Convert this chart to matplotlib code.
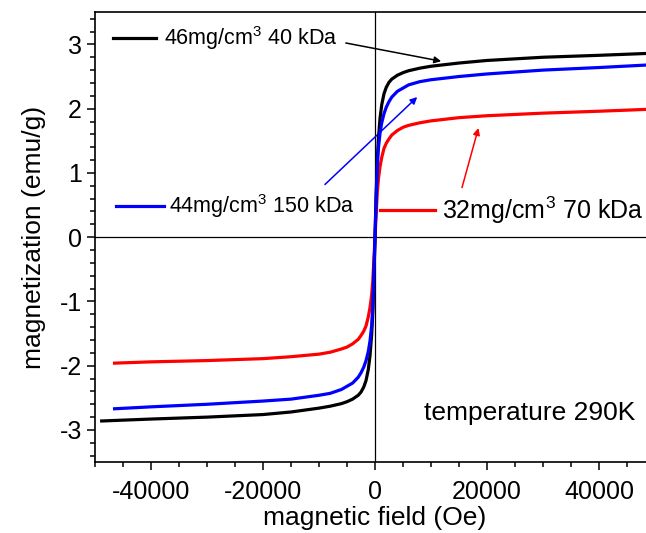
import numpy as np
import matplotlib.pyplot as plt
from matplotlib.ticker import MultipleLocator

plt.rcParams['font.family'] = ['Liberation Sans', 'DejaVu Sans']
plt.rcParams['axes.unicode_minus'] = False
plt.rcParams['mathtext.fontset'] = 'custom'
plt.rcParams['mathtext.rm'] = 'Liberation Sans'
plt.rcParams['mathtext.it'] = 'Liberation Sans'

# field values (Oe) shared by the three curves
field = [-48800, -40000, -30000, -20000, -15000, -10000, -8000, -6000, -5000, -4000,
         -3000, -2500, -2000, -1600, -1200, -900, -600, -400, -200, 0,
         200, 400, 600, 900, 1200, 1600, 2000, 2500, 3000, 4000,
         5000, 6000, 8000, 10000, 15000, 20000, 30000, 40000, 48800]

m_46 = [-2.86, -2.83, -2.80, -2.76, -2.72, -2.66, -2.63, -2.59, -2.56, -2.52,
        -2.46, -2.41, -2.33, -2.23, -2.06, -1.85, -1.52, -1.18, -0.65, 0.0,
        0.65, 1.18, 1.52, 1.85, 2.06, 2.23, 2.33, 2.41, 2.46, 2.52,
        2.56, 2.59, 2.63, 2.66, 2.71, 2.75, 2.80, 2.83, 2.86]

m_44 = [-2.67, -2.64, -2.60, -2.55, -2.52, -2.46, -2.43, -2.37, -2.32, -2.27,
        -2.18, -2.11, -2.02, -1.92, -1.78, -1.62, -1.38, -1.08, -0.58, 0.0,
        0.58, 1.08, 1.38, 1.62, 1.78, 1.92, 2.02, 2.11, 2.18, 2.27,
        2.32, 2.37, 2.42, 2.45, 2.50, 2.54, 2.60, 2.64, 2.68]

m_32 = [-1.96, -1.94, -1.92, -1.89, -1.86, -1.82, -1.79, -1.74, -1.71, -1.66,
        -1.59, -1.53, -1.46, -1.38, -1.24, -1.10, -0.90, -0.68, -0.36, 0.0,
        0.36, 0.68, 0.90, 1.10, 1.24, 1.38, 1.46, 1.53, 1.59, 1.66,
        1.71, 1.74, 1.78, 1.81, 1.86, 1.89, 1.93, 1.96, 1.99]

# the 44 and 32 mg/cm3 sweeps start a bit later on the negative side
start_44 = -46500
start_32 = -46500

fig = plt.figure(figsize=(6.46, 5.33), dpi=100)
ax = fig.add_axes([0.147, 0.133, 0.867, 0.844])

f = np.array(field, dtype=float)
f_44 = f.copy()
f_44[0] = start_44
f_32 = f.copy()
f_32[0] = start_32

ax.axhline(0, color='black', lw=0.9, zorder=1)
ax.axvline(0, color='black', lw=0.9, zorder=1)

ax.plot(f_32, m_32, color='#ff0000', lw=2.3, zorder=3, solid_joinstyle='round')
ax.plot(f, m_46, color='black', lw=2.3, zorder=4, solid_joinstyle='round')
ax.plot(f_44, m_44, color='#0000ff', lw=2.3, zorder=5, solid_joinstyle='round')

ax.set_xlim(-50000, 50000)
ax.set_ylim(-3.5, 3.5)
ax.xaxis.set_major_locator(MultipleLocator(20000))
ax.xaxis.set_minor_locator(MultipleLocator(5000))
ax.yaxis.set_major_locator(MultipleLocator(1))
ax.yaxis.set_minor_locator(MultipleLocator(0.2))
ax.tick_params(which='both', direction='out', top=False, right=False,
               labelsize=18, width=1.1)
ax.tick_params(which='major', length=6)
ax.tick_params(axis='x', which='major', pad=7)
ax.tick_params(which='minor', length=3.5)
for s in ax.spines.values():
    s.set_linewidth(1.2)
ax.set_xticks([-40000, -20000, 0, 20000, 40000])
ax.set_xticklabels(['-40000', '-20000', '0', '20000', '40000'])

ax.set_xlabel('magnetic field (Oe)', fontsize=19, labelpad=1)
ax.set_ylabel('magnetization (emu/g)', fontsize=19, labelpad=10)

# legend-like labels with pointer arrows
ax.plot([-46800, -39100], [3.10, 3.10], color='black', lw=2.3)
ax.text(-37700, 3.10, '46mg/cm$^3$ 40 kDa', fontsize=15.5, va='center', ha='left')
ax.annotate('', xy=(12300, 2.73), xytext=(-5700, 3.03),
            arrowprops=dict(arrowstyle='-|>', color='black', lw=1.1, mutation_scale=10))

ax.plot([-46300, -37700], [0.48, 0.48], color='#0000ff', lw=2.3)
ax.text(-36800, 0.48, '44mg/cm$^3$ 150 kDa', fontsize=15.5, va='center', ha='left')
ax.annotate('', xy=(7900, 2.21), xytext=(-9300, 0.79),
            arrowprops=dict(arrowstyle='-|>', color='#0000ff', lw=1.1, mutation_scale=10))

ax.plot([900, 10700], [0.42, 0.42], color='#ff0000', lw=2.3)
ax.text(11900, 0.42, '32mg/cm$^3$ 70 kDa', fontsize=18, va='center', ha='left')
ax.annotate('', xy=(18600, 1.74), xytext=(15400, 0.73),
            arrowprops=dict(arrowstyle='-|>', color='#ff0000', lw=1.1, mutation_scale=10))

ax.text(8700, -2.74, 'temperature 290K', fontsize=19, va='center', ha='left')

fig.savefig('out.png', dpi=100)
